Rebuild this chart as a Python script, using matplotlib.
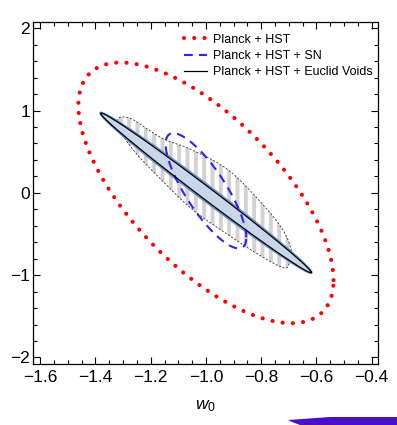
import numpy as np
import matplotlib
matplotlib.use("Agg")
import matplotlib.pyplot as plt
from matplotlib.patches import Polygon
from matplotlib.ticker import MultipleLocator

plt.rcParams['font.family'] = ['Liberation Sans', 'DejaVu Sans']
plt.rcParams['mathtext.fontset'] = 'custom'
plt.rcParams['mathtext.it'] = 'Liberation Sans:italic'
plt.rcParams['mathtext.rm'] = 'Liberation Sans'
plt.rcParams['hatch.linewidth'] = 2.8

# ---- data ----
# Gaussian contours: centre (w0, wa), marginal half-widths, correlation
planck_center = [-1.0, 0.0]
planck_sigma = [0.462, 1.584]
planck_rho = -0.67

sn_center = [-1.0, 0.025]
sn_sigma = [0.146, 0.70]
sn_rho = -0.81

voids_center = [-1.0, 0.0]
voids_sigma = [0.383, 0.975]
voids_rho = -0.9935        # filled region
voids_line_rho = -0.9955   # black contour line

# non-Gaussian (hatched) contour boundary
hatch_w0 = [-1.32, -1.31, -1.27, -1.21, -1.15, -1.05, -0.92, -0.80, -0.72, -0.69,
            -0.70, -0.72, -0.80, -0.92, -1.05, -1.15, -1.24, -1.29, -1.32]
hatch_wa = [0.87, 0.92, 0.90, 0.77, 0.65, 0.52, 0.28, -0.12, -0.46, -0.72,
            -0.87, -0.91, -0.77, -0.51, -0.20, 0.12, 0.43, 0.64, 0.80]

labels = ["Planck + HST", "Planck + HST + SN", "Planck + HST + Euclid Voids"]
xticks = [-1.6, -1.4, -1.2, -1.0, -0.8, -0.6, -0.4]
yticks = [-2, -1, 0, 1, 2]


def ellipse(center, sigma, rho, scale=1.0, n=600):
    t = np.linspace(0, 2 * np.pi, n)
    x = center[0] + scale * sigma[0] * np.cos(t)
    y = center[1] + scale * sigma[1] * (rho * np.cos(t) + np.sqrt(1 - rho ** 2) * np.sin(t))
    return x, y


def closed_spline(xs, ys, n=20):
    P = np.column_stack([xs, ys])
    N = len(P)
    out = []
    t = np.linspace(0, 1, n, endpoint=False)[:, None]
    for i in range(N):
        p0, p1, p2, p3 = P[(i - 1) % N], P[i], P[(i + 1) % N], P[(i + 2) % N]
        pts = 0.5 * ((2 * p1) + (-p0 + p2) * t + (2 * p0 - 5 * p1 + 4 * p2 - p3) * t ** 2
                     + (-p0 + 3 * p1 - 3 * p2 + p3) * t ** 3)
        out.append(pts)
    return np.vstack(out)


fig = plt.figure(figsize=(3.97, 4.25), dpi=100)
ax = fig.add_axes([0.084, 0.1435, 0.8675, 0.8055])

# red dotted
rx, ry = ellipse(planck_center, planck_sigma, planck_rho)
ax.plot(rx, ry, color='#ff0000', lw=3.0, linestyle=(0, (0.01, 2.45)),
        dash_capstyle='round', zorder=2, label=labels[0])

# hatched region
hp = closed_spline(hatch_w0, hatch_wa)
ax.add_patch(Polygon(hp, closed=True, facecolor='white', edgecolor='#d2d2d2',
                     hatch='||', lw=0, zorder=3))
ax.add_patch(Polygon(hp, closed=True, facecolor='none', edgecolor='#333333',
                     lw=0.6, linestyle=(0, (2.5, 2.0)), zorder=3.1))

# voids filled ellipse
vx, vy = ellipse(voids_center, voids_sigma, voids_rho)
ax.fill(vx, vy, facecolor='#c9d5e8', edgecolor='#6f90c4', lw=1.4, zorder=4)

# blue dashed
bx, by = ellipse(sn_center, sn_sigma, sn_rho)
ax.plot(bx, by, color='#3a1cf5', lw=1.5, linestyle=(0, (4.2, 3.0)), zorder=5,
        label=labels[1])

# black voids contour
kx, ky = ellipse(voids_center, voids_sigma, voids_line_rho, scale=0.995)
ax.plot(kx, ky, color='black', lw=0.9, zorder=6, label=labels[2])

ax.set_xlim(-1.625, -0.378)
ax.set_ylim(-2.08, 2.08)
ax.set_xticks(xticks)
ax.set_xticklabels(['−1.6', '−1.4', '−1.2', '−1.0', '−0.8', '−0.6', '−0.4'])
ax.set_yticks(yticks)
ax.set_yticklabels(['−2', '−1', '0', '1', '2'])
ax.xaxis.set_minor_locator(MultipleLocator(0.05))
ax.yaxis.set_minor_locator(MultipleLocator(0.2))
ax.tick_params(which='both', direction='in', top=True, right=True, width=0.8,
               labelsize=12.5)
ax.tick_params(axis='x', pad=4)
ax.tick_params(axis='y', pad=2.5)
ax.tick_params(which='major', length=5)
ax.tick_params(which='minor', length=2.8)
for s in ax.spines.values():
    s.set_linewidth(0.9)

ax.set_xlabel('$w_0$', fontsize=12.5, labelpad=10)
ax.set_ylabel('$w_a$', fontsize=12.5)
ax.yaxis.set_label_coords(-0.085, 0.5)

leg = ax.legend(loc='upper right', frameon=False, fontsize=9,
                handlelength=1.8, handletextpad=0.5, labelspacing=0.33,
                borderaxespad=0.0, bbox_to_anchor=(1.0, 0.979))

# purple brush stroke artefact at the bottom edge
fig.patches.append(Polygon([[288 / 397, 5 / 425], [330 / 397, 8 / 425], [397 / 397, 8 / 425],
                            [397 / 397, 0], [300 / 397, 0], [292 / 397, 3 / 425]], closed=True,
                           transform=fig.transFigure, facecolor='#4a10c8',
                           edgecolor='none'))

fig.savefig('out.png', dpi=100)
